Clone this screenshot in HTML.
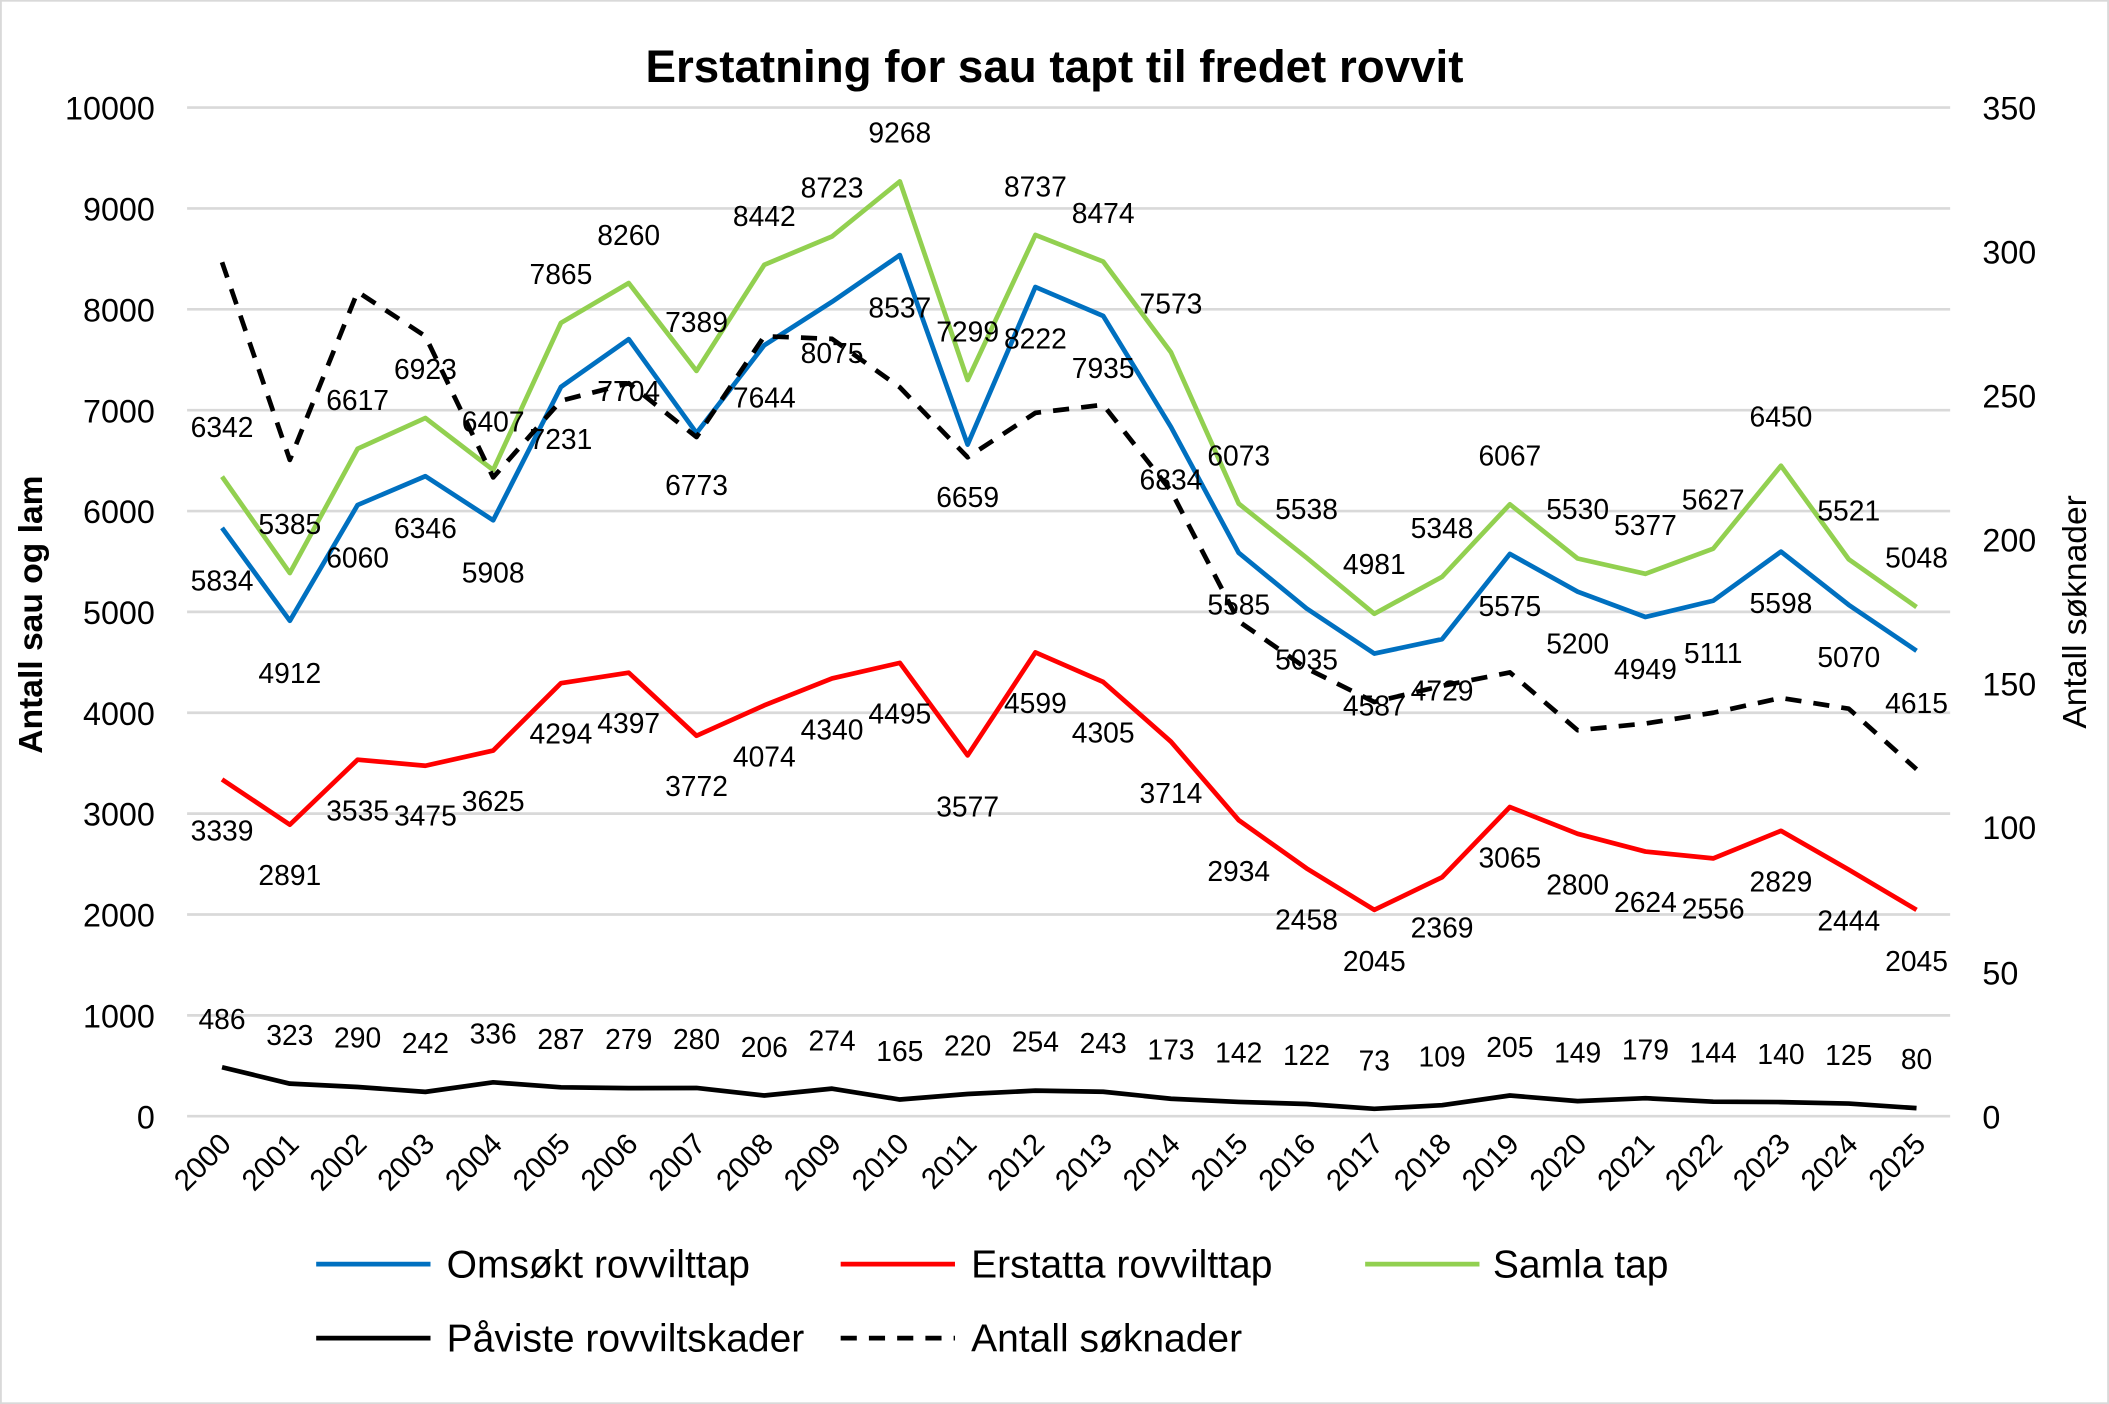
<!DOCTYPE html>
<html><head><meta charset="utf-8"><style>html,body{margin:0;padding:0;background:#fff}svg{display:block}</style></head>
<body>
<svg width="2109" height="1404" viewBox="0 0 1568 1044" xmlns="http://www.w3.org/2000/svg">
<rect x="0.5" y="0.5" width="1567" height="1043" fill="#fff" stroke="#d9d9d9" stroke-width="1.5"/>
<text x="784" y="61" text-anchor="middle" font-family="Liberation Sans, sans-serif" font-weight="bold" font-size="34">Erstatning for sau tapt til fredet rovvit</text>
<g stroke="#d9d9d9" stroke-width="2">
<line x1="139" x2="1450" y1="80" y2="80"/><line x1="139" x2="1450" y1="155" y2="155"/><line x1="139" x2="1450" y1="230" y2="230"/><line x1="139" x2="1450" y1="305" y2="305"/><line x1="139" x2="1450" y1="380" y2="380"/><line x1="139" x2="1450" y1="455" y2="455"/><line x1="139" x2="1450" y1="530" y2="530"/><line x1="139" x2="1450" y1="605" y2="605"/><line x1="139" x2="1450" y1="680" y2="680"/><line x1="139" x2="1450" y1="755" y2="755"/><line x1="139" x2="1450" y1="830" y2="830"/>
</g>
<g font-family="Liberation Sans, sans-serif" font-size="24" text-anchor="end">
<text x="115" y="89">10000</text><text x="115" y="164">9000</text><text x="115" y="239">8000</text><text x="115" y="314">7000</text><text x="115" y="389">6000</text><text x="115" y="464">5000</text><text x="115" y="539">4000</text><text x="115" y="614">3000</text><text x="115" y="689">2000</text><text x="115" y="764">1000</text><text x="115" y="839">0</text>
</g>
<g font-family="Liberation Sans, sans-serif" font-size="24">
<text x="1474" y="89">350</text><text x="1474" y="196">300</text><text x="1474" y="303">250</text><text x="1474" y="410">200</text><text x="1474" y="517">150</text><text x="1474" y="624">100</text><text x="1474" y="732">50</text><text x="1474" y="839">0</text>
</g>
<text transform="translate(31,457) rotate(-90)" text-anchor="middle" font-family="Liberation Sans, sans-serif" font-weight="bold" font-size="25">Antall sau og lam</text>
<text transform="translate(1551,455) rotate(-90)" text-anchor="middle" font-family="Liberation Sans, sans-serif" font-size="25">Antall søknader</text>
<g font-family="Liberation Sans, sans-serif" font-size="22" text-anchor="end">
<text transform="translate(173,852) rotate(-45)">2000</text><text transform="translate(223.4,852) rotate(-45)">2001</text><text transform="translate(273.8,852) rotate(-45)">2002</text><text transform="translate(324.2,852) rotate(-45)">2003</text><text transform="translate(374.6,852) rotate(-45)">2004</text><text transform="translate(425,852) rotate(-45)">2005</text><text transform="translate(475.4,852) rotate(-45)">2006</text><text transform="translate(525.8,852) rotate(-45)">2007</text><text transform="translate(576.2,852) rotate(-45)">2008</text><text transform="translate(626.6,852) rotate(-45)">2009</text><text transform="translate(677,852) rotate(-45)">2010</text><text transform="translate(727.4,852) rotate(-45)">2011</text><text transform="translate(777.8,852) rotate(-45)">2012</text><text transform="translate(828.2,852) rotate(-45)">2013</text><text transform="translate(878.6,852) rotate(-45)">2014</text><text transform="translate(929,852) rotate(-45)">2015</text><text transform="translate(979.4,852) rotate(-45)">2016</text><text transform="translate(1029.8,852) rotate(-45)">2017</text><text transform="translate(1080.2,852) rotate(-45)">2018</text><text transform="translate(1130.6,852) rotate(-45)">2019</text><text transform="translate(1181,852) rotate(-45)">2020</text><text transform="translate(1231.4,852) rotate(-45)">2021</text><text transform="translate(1281.8,852) rotate(-45)">2022</text><text transform="translate(1332.2,852) rotate(-45)">2023</text><text transform="translate(1382.6,852) rotate(-45)">2024</text><text transform="translate(1433,852) rotate(-45)">2025</text>
</g>
<g fill="none" stroke-width="3.5" stroke-linejoin="round">
<polyline stroke="#ff0000" points="165,579.6 215.4,613.2 265.8,564.9 316.2,569.4 366.6,558.1 417,508 467.4,500.2 517.8,547.1 568.2,524.5 618.6,504.5 669,492.9 719.4,561.7 769.8,485.1 820.2,507.1 870.6,551.5 921,609.9 971.4,645.7 1021.8,676.6 1072.2,652.3 1122.6,600.1 1173,620 1223.4,633.2 1273.8,638.3 1324.2,617.8 1374.6,646.7 1425,676.6"/>
<polyline stroke="#0070c0" points="165,392.5 215.4,461.6 265.8,375.5 316.2,354.1 366.6,386.9 417,287.7 467.4,252.2 517.8,322 568.2,256.7 618.6,224.4 669,189.7 719.4,330.6 769.8,213.4 820.2,234.9 870.6,317.5 921,411.1 971.4,452.4 1021.8,486 1072.2,475.3 1122.6,411.9 1173,440 1223.4,458.8 1273.8,446.7 1324.2,410.2 1374.6,449.8 1425,483.9"/>
<polyline stroke="#92d050" points="165,354.4 215.4,426.1 265.8,333.7 316.2,310.8 366.6,349.5 417,240.1 467.4,210.5 517.8,275.8 568.2,196.9 618.6,175.8 669,134.9 719.4,282.6 769.8,174.7 820.2,194.5 870.6,262 921,374.5 971.4,414.7 1021.8,456.4 1072.2,428.9 1122.6,375 1173,415.3 1223.4,426.7 1273.8,408 1324.2,346.3 1374.6,415.9 1425,451.4"/>
<polyline stroke="#000" stroke-dasharray="12,9" points="165,195 215.4,342 265.8,217 316.2,250 366.6,355 417,298 467.4,285 517.8,325 568.2,250 618.6,252 669,288 719.4,340 769.8,307 820.2,301 870.6,365 921,462 971.4,497 1021.8,522 1072.2,510 1122.6,500 1173,543 1223.4,538 1273.8,530 1324.2,519 1374.6,527 1425,572"/>
<polyline stroke="#000" points="165,793.6 215.4,805.8 265.8,808.3 316.2,811.9 366.6,804.8 417,808.5 467.4,809.1 517.8,809 568.2,814.6 618.6,809.5 669,817.6 719.4,813.5 769.8,811 820.2,811.8 870.6,817 921,819.4 971.4,820.9 1021.8,824.5 1072.2,821.8 1122.6,814.6 1173,818.8 1223.4,816.6 1273.8,819.2 1324.2,819.5 1374.6,820.6 1425,824"/>
</g>
<g font-family="Liberation Sans, sans-serif" font-size="21" text-anchor="middle">
<text x="165" y="325">6342</text><text x="215.4" y="397">5385</text><text x="265.8" y="305">6617</text><text x="316.2" y="282">6923</text><text x="366.6" y="321">6407</text><text x="417" y="211">7865</text><text x="467.4" y="182">8260</text><text x="517.8" y="247">7389</text><text x="568.2" y="168">8442</text><text x="618.6" y="147">8723</text><text x="669" y="106">9268</text><text x="719.4" y="254">7299</text><text x="769.8" y="146">8737</text><text x="820.2" y="166">8474</text><text x="870.6" y="233">7573</text><text x="921" y="346">6073</text><text x="971.4" y="386">5538</text><text x="1021.8" y="427">4981</text><text x="1072.2" y="400">5348</text><text x="1122.6" y="346">6067</text><text x="1173" y="386">5530</text><text x="1223.4" y="398">5377</text><text x="1273.8" y="379">5627</text><text x="1324.2" y="317">6450</text><text x="1374.6" y="387">5521</text><text x="1425" y="422">5048</text>
<text x="165" y="439">5834</text><text x="215.4" y="508">4912</text><text x="265.8" y="422">6060</text><text x="316.2" y="400">6346</text><text x="366.6" y="433">5908</text><text x="417" y="334">7231</text><text x="467.4" y="298">7704</text><text x="517.8" y="368">6773</text><text x="568.2" y="303">7644</text><text x="618.6" y="270">8075</text><text x="669" y="236">8537</text><text x="719.4" y="377">6659</text><text x="769.8" y="259">8222</text><text x="820.2" y="281">7935</text><text x="870.6" y="364">6834</text><text x="921" y="457">5585</text><text x="971.4" y="498">5035</text><text x="1021.8" y="532">4587</text><text x="1072.2" y="521">4729</text><text x="1122.6" y="458">5575</text><text x="1173" y="486">5200</text><text x="1223.4" y="505">4949</text><text x="1273.8" y="493">5111</text><text x="1324.2" y="456">5598</text><text x="1374.6" y="496">5070</text><text x="1425" y="530">4615</text>
<text x="165" y="625">3339</text><text x="215.4" y="658">2891</text><text x="265.8" y="610">3535</text><text x="316.2" y="614">3475</text><text x="366.6" y="603">3625</text><text x="417" y="553">4294</text><text x="467.4" y="545">4397</text><text x="517.8" y="592">3772</text><text x="568.2" y="570">4074</text><text x="618.6" y="550">4340</text><text x="669" y="538">4495</text><text x="719.4" y="607">3577</text><text x="769.8" y="530">4599</text><text x="820.2" y="552">4305</text><text x="870.6" y="597">3714</text><text x="921" y="655">2934</text><text x="971.4" y="691">2458</text><text x="1021.8" y="722">2045</text><text x="1072.2" y="697">2369</text><text x="1122.6" y="645">3065</text><text x="1173" y="665">2800</text><text x="1223.4" y="678">2624</text><text x="1273.8" y="683">2556</text><text x="1324.2" y="663">2829</text><text x="1374.6" y="692">2444</text><text x="1425" y="722">2045</text>
<text x="165" y="765">486</text><text x="215.4" y="777">323</text><text x="265.8" y="779">290</text><text x="316.2" y="783">242</text><text x="366.6" y="776">336</text><text x="417" y="780">287</text><text x="467.4" y="780">279</text><text x="517.8" y="780">280</text><text x="568.2" y="786">206</text><text x="618.6" y="781">274</text><text x="669" y="789">165</text><text x="719.4" y="785">220</text><text x="769.8" y="782">254</text><text x="820.2" y="783">243</text><text x="870.6" y="788">173</text><text x="921" y="790">142</text><text x="971.4" y="792">122</text><text x="1021.8" y="796">73</text><text x="1072.2" y="793">109</text><text x="1122.6" y="786">205</text><text x="1173" y="790">149</text><text x="1223.4" y="788">179</text><text x="1273.8" y="790">144</text><text x="1324.2" y="791">140</text><text x="1374.6" y="792">125</text><text x="1425" y="795">80</text>
</g>
<g stroke-width="3.5">
<line x1="235" x2="320" y1="940" y2="940" stroke="#0070c0"/>
<line x1="625" x2="710" y1="940" y2="940" stroke="#ff0000"/>
<line x1="1015" x2="1100" y1="940" y2="940" stroke="#92d050"/>
<line x1="235" x2="320" y1="995" y2="995" stroke="#000"/>
<line x1="625" x2="710" y1="995" y2="995" stroke="#000" stroke-dasharray="12,9"/>
</g>
<g font-family="Liberation Sans, sans-serif" font-size="29">
<text x="332" y="950">Omsøkt rovvilttap</text>
<text x="722" y="950">Erstatta rovvilttap</text>
<text x="1110" y="950">Samla tap</text>
<text x="332" y="1005">Påviste rovviltskader</text>
<text x="722" y="1005">Antall søknader</text>
</g>
</svg>
</body></html>
